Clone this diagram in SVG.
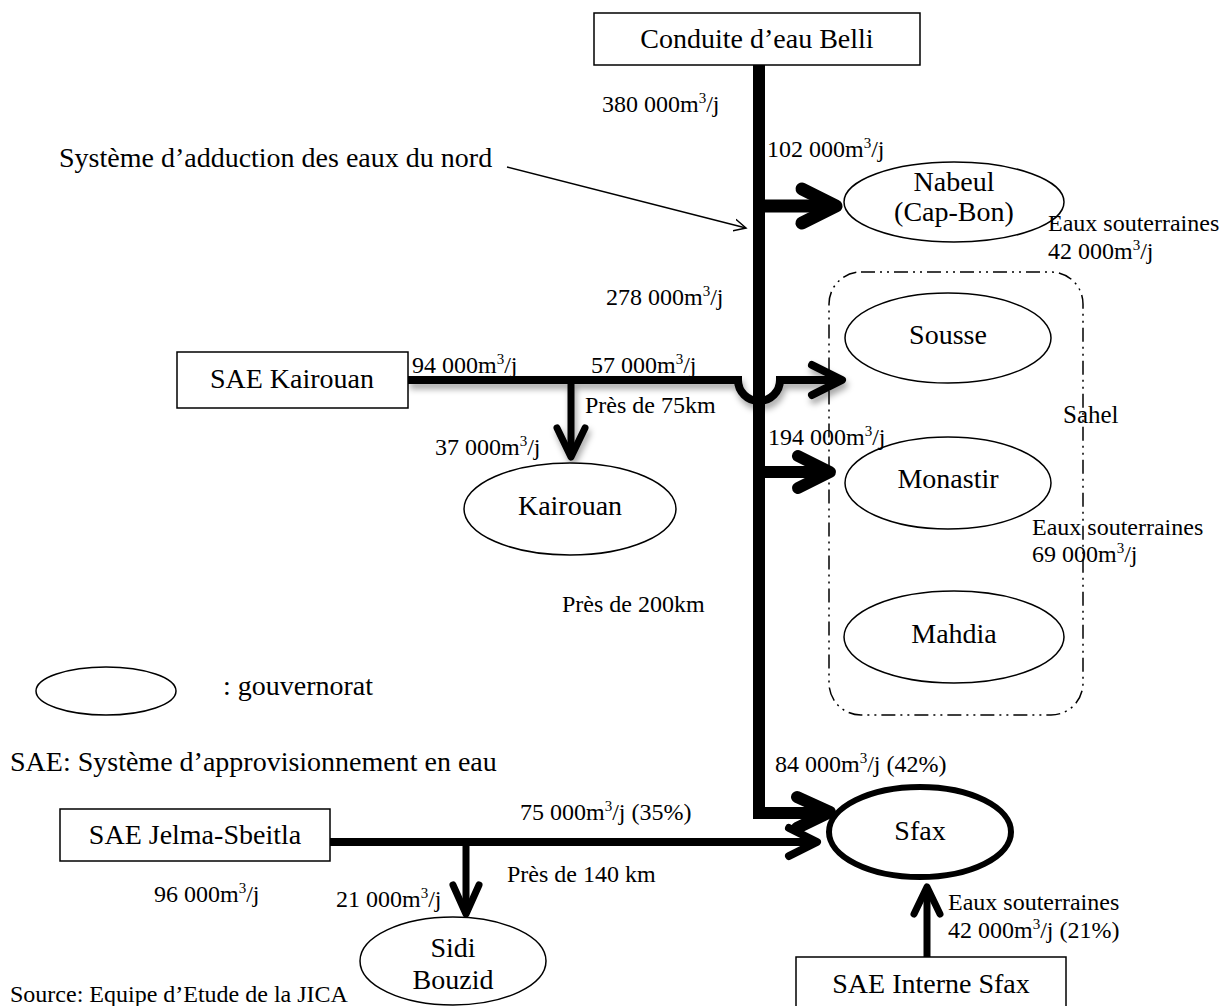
<svg xmlns="http://www.w3.org/2000/svg" width="1226" height="1006" viewBox="0 0 1226 1006">
<style>
text{font-family:"Liberation Serif","Times New Roman",serif;fill:#000}
.big{font-size:28px}
.sm{font-size:24px}
.box{fill:#fff;stroke:#000;stroke-width:1.5}
.ell{fill:#fff;stroke:#000;stroke-width:1.5}
.pipe{fill:none;stroke:#000;stroke-linecap:butt;stroke-linejoin:miter}
.head{fill:none;stroke:#000;stroke-linecap:round;stroke-linejoin:round}
</style>
<defs>
<marker id="open" markerWidth="14" markerHeight="14" refX="12" refY="7" orient="auto" markerUnits="userSpaceOnUse">
<path d="M0,1 L12,7 L0,13" fill="none" stroke="#000" stroke-width="1.5"/>
</marker>
<filter id="shadow" x="-10%" y="-50%" width="120%" height="250%">
<feDropShadow dx="2" dy="5" stdDeviation="3" flood-color="#000" flood-opacity="0.35"/>
</filter>
</defs>
<rect width="1226" height="1006" fill="#fff"/>

<g id="sahel">
<rect x="829" y="272" width="254" height="443" rx="32" fill="none" stroke="#000" stroke-width="1.5" stroke-dasharray="14 5 2 5 2 5"/>
<text class="sm" x="1063" y="423" style="font-size:25px">Sahel</text>
</g>

<g id="connectors">
<path class="pipe" d="M759,65 V813 H826" stroke-width="12"/>
<polyline class="head" points="797,797 830,812 797,828" stroke-width="12"/>
<path class="pipe" d="M759,206 H830" stroke-width="13"/>
<polyline class="head" points="802,189 836,206 802,223" stroke-width="13"/>
<path class="pipe" d="M759,472 H826" stroke-width="12"/>
<polyline class="head" points="798,456 830,472 798,488" stroke-width="12"/>
<g filter="url(#shadow)">
<path class="pipe" d="M408,380 H738 A21,21 0 0 0 780,380 H838" stroke-width="8"/>
<polyline class="head" points="812,365 842,380 812,395" stroke-width="8"/>
<path class="pipe" d="M571,380 V454" stroke-width="7"/>
<polyline class="head" points="557,428 571,457 585,428" stroke-width="7"/>
</g>
<path class="pipe" d="M330,842 H814" stroke-width="8"/>
<polyline class="head" points="789,828 817,842 789,856" stroke-width="8"/>
<path class="pipe" d="M466,842 V911" stroke-width="7"/>
<polyline class="head" points="453,885 466,914 479,885" stroke-width="7"/>
<path class="pipe" d="M927,957 V890" stroke-width="7"/>
<polyline class="head" points="914,914 927,887 940,914" stroke-width="7"/>
<line x1="507" y1="167" x2="746" y2="228" stroke="#000" stroke-width="1.5" marker-end="url(#open)"/>
</g>

<g id="belli">
<rect class="box" x="594" y="13" width="326" height="52"/>
<text class="big" x="757" y="48" text-anchor="middle">Conduite d’eau Belli</text>
</g>
<g id="sae-kairouan">
<rect class="box" x="177" y="352" width="231" height="56"/>
<text class="big" x="292" y="388" text-anchor="middle">SAE Kairouan</text>
</g>
<g id="sae-jelma">
<rect class="box" x="60" y="809" width="270" height="52"/>
<text class="big" x="195" y="844" text-anchor="middle">SAE Jelma-Sbeitla</text>
</g>
<g id="sae-interne-sfax">
<rect class="box" x="796" y="957" width="270" height="60"/>
<text class="big" x="931" y="993" text-anchor="middle">SAE Interne Sfax</text>
</g>

<g id="nabeul">
<ellipse class="ell" cx="954" cy="202" rx="110" ry="40"/>
<text class="big" x="954" y="191" text-anchor="middle">Nabeul</text>
<text class="big" x="954" y="221" text-anchor="middle">(Cap-Bon)</text>
</g>
<g id="sousse">
<ellipse class="ell" cx="948" cy="338" rx="103" ry="45"/>
<text class="big" x="948" y="344" text-anchor="middle">Sousse</text>
</g>
<g id="monastir">
<ellipse class="ell" cx="948" cy="483" rx="103" ry="46"/>
<text class="big" x="948" y="488" text-anchor="middle">Monastir</text>
</g>
<g id="mahdia">
<ellipse class="ell" cx="954" cy="637" rx="110" ry="46"/>
<text class="big" x="954" y="643" text-anchor="middle">Mahdia</text>
</g>
<g id="kairouan">
<ellipse class="ell" cx="570" cy="509" rx="106" ry="46"/>
<text class="big" x="570" y="515" text-anchor="middle">Kairouan</text>
</g>
<g id="sfax">
<ellipse cx="920" cy="832" rx="91" ry="45" fill="#fff" stroke="#000" stroke-width="6"/>
<text class="big" x="920" y="840" text-anchor="middle">Sfax</text>
</g>
<g id="sidi-bouzid">
<ellipse class="ell" cx="453" cy="961" rx="93" ry="44"/>
<text class="big" x="453" y="957" text-anchor="middle">Sidi</text>
<text class="big" x="453" y="989" text-anchor="middle">Bouzid</text>
</g>

<g id="labels">
<text class="sm" x="602" y="112">380 000m<tspan dy="-9" font-size="15">3</tspan><tspan dy="9">/j</tspan></text>
<text class="sm" x="767" y="157">102 000m<tspan dy="-9" font-size="15">3</tspan><tspan dy="9">/j</tspan></text>
<text class="big" x="59" y="167">Système d’adduction des eaux du nord</text>
<text class="sm" x="1048" y="231">Eaux souterraines</text>
<text class="sm" x="1048" y="259">42 000m<tspan dy="-9" font-size="15">3</tspan><tspan dy="9">/j</tspan></text>
<text class="sm" x="606" y="305">278 000m<tspan dy="-9" font-size="15">3</tspan><tspan dy="9">/j</tspan></text>
<text class="sm" x="412" y="373">94 000m<tspan dy="-9" font-size="15">3</tspan><tspan dy="9">/j</tspan></text>
<text class="sm" x="591" y="373">57 000m<tspan dy="-9" font-size="15">3</tspan><tspan dy="9">/j</tspan></text>
<text class="sm" x="585" y="413">Près de 75km</text>
<text class="sm" x="435" y="455">37 000m<tspan dy="-9" font-size="15">3</tspan><tspan dy="9">/j</tspan></text>
<text class="sm" x="768" y="445">194 000m<tspan dy="-9" font-size="15">3</tspan><tspan dy="9">/j</tspan></text>
<text class="sm" x="1032" y="535">Eaux souterraines</text>
<text class="sm" x="1032" y="562">69 000m<tspan dy="-9" font-size="15">3</tspan><tspan dy="9">/j</tspan></text>
<text class="sm" x="562" y="612">Près de 200km</text>
<text class="big" x="223" y="695">: gouvernorat</text>
<text class="big" x="10" y="771">SAE: Système d’approvisionnement en eau</text>
<text class="sm" x="775" y="772">84 000m<tspan dy="-9" font-size="15">3</tspan><tspan dy="9">/j (42%)</tspan></text>
<text class="sm" x="520" y="820">75 000m<tspan dy="-9" font-size="15">3</tspan><tspan dy="9">/j (35%)</tspan></text>
<text class="sm" x="507" y="882">Près de 140 km</text>
<text class="sm" x="154" y="902">96 000m<tspan dy="-9" font-size="15">3</tspan><tspan dy="9">/j</tspan></text>
<text class="sm" x="336" y="907">21 000m<tspan dy="-9" font-size="15">3</tspan><tspan dy="9">/j</tspan></text>
<text class="sm" x="948" y="910">Eaux souterraines</text>
<text class="sm" x="948" y="938">42 000m<tspan dy="-9" font-size="15">3</tspan><tspan dy="9">/j (21%)</tspan></text>
<text class="sm" x="10" y="1002">Source: Equipe d’Etude de la JICA</text>
</g>

<g id="legend">
<ellipse class="ell" cx="106" cy="691" rx="70" ry="24"/>
</g>
</svg>
